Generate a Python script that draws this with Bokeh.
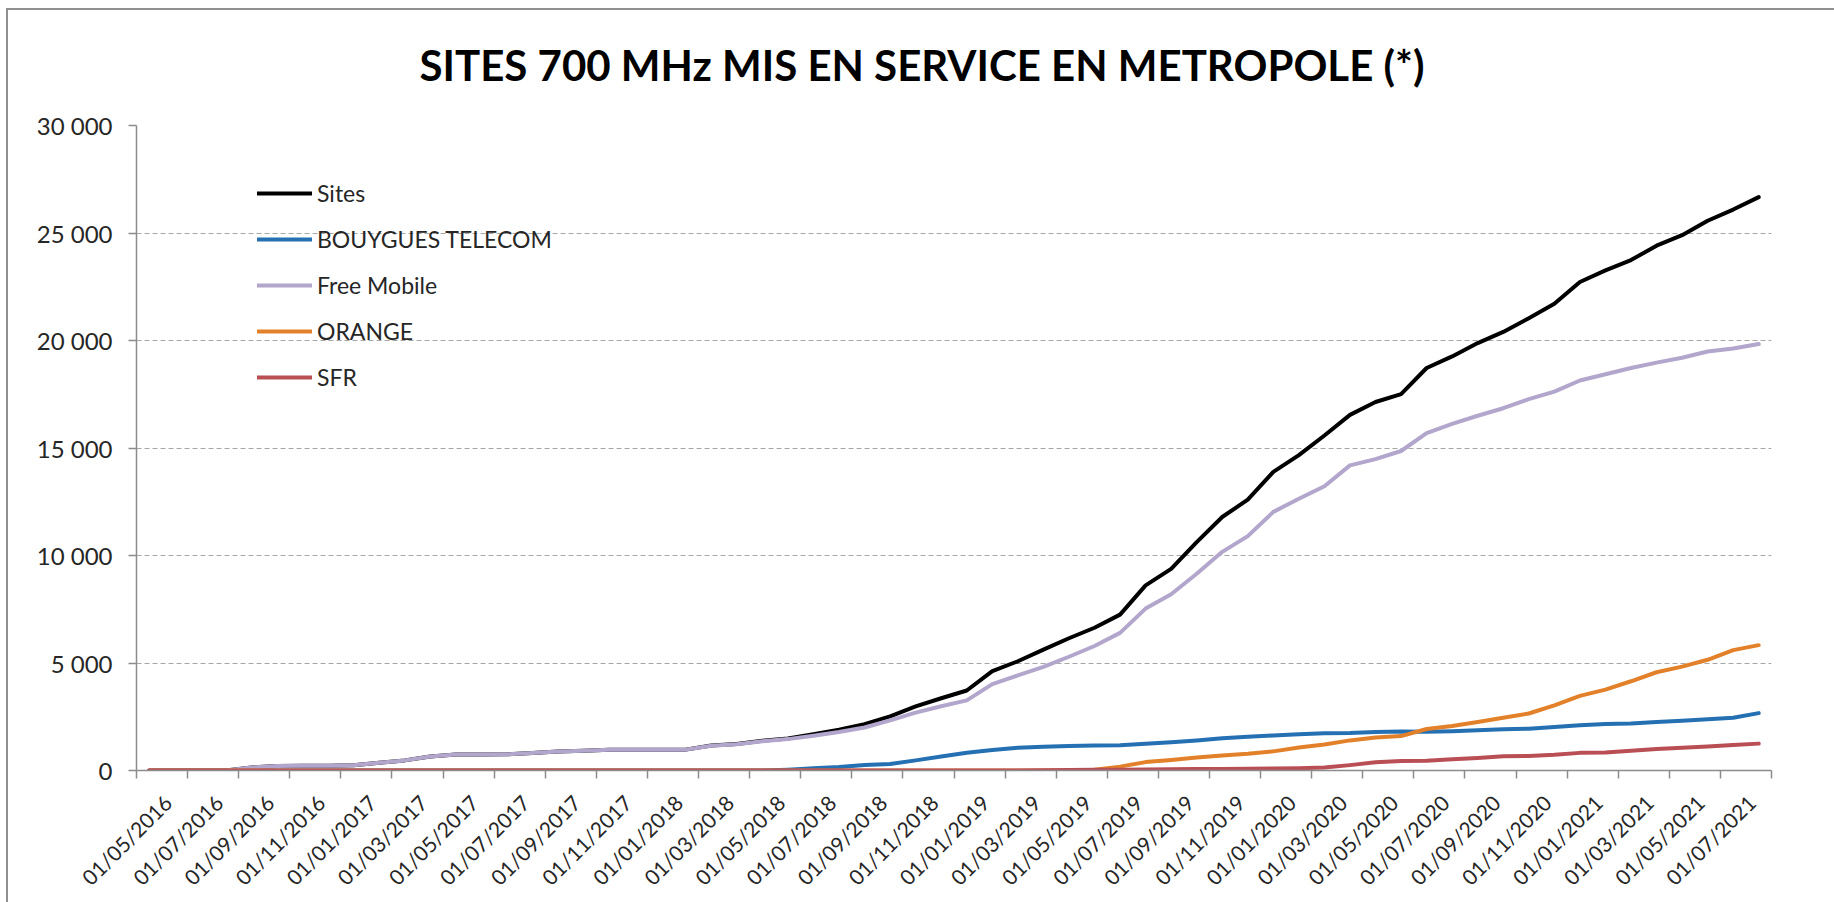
import math
from bokeh.plotting import figure
from bokeh.models import Range1d, FixedTicker, Title
from bokeh.embed import file_html
from bokeh.resources import INLINE

# ---------------- data ----------------
months = [
    "05/2016", "06/2016", "07/2016", "08/2016", "09/2016", "10/2016", "11/2016", "12/2016",
    "01/2017", "02/2017", "03/2017", "04/2017", "05/2017", "06/2017", "07/2017", "08/2017",
    "09/2017", "10/2017", "11/2017", "12/2017", "01/2018", "02/2018", "03/2018", "04/2018",
    "05/2018", "06/2018", "07/2018", "08/2018", "09/2018", "10/2018", "11/2018", "12/2018",
    "01/2019", "02/2019", "03/2019", "04/2019", "05/2019", "06/2019", "07/2019", "08/2019",
    "09/2019", "10/2019", "11/2019", "12/2019", "01/2020", "02/2020", "03/2020", "04/2020",
    "05/2020", "06/2020", "07/2020", "08/2020", "09/2020", "10/2020", "11/2020", "12/2020",
    "01/2021", "02/2021", "03/2021", "04/2021", "05/2021", "06/2021", "07/2021", "08/2021",
]

tick_labels = [
    "01/05/2016", "01/07/2016", "01/09/2016", "01/11/2016", "01/01/2017", "01/03/2017",
    "01/05/2017", "01/07/2017", "01/09/2017", "01/11/2017", "01/01/2018", "01/03/2018",
    "01/05/2018", "01/07/2018", "01/09/2018", "01/11/2018", "01/01/2019", "01/03/2019",
    "01/05/2019", "01/07/2019", "01/09/2019", "01/11/2019", "01/01/2020", "01/03/2020",
    "01/05/2020", "01/07/2020", "01/09/2020", "01/11/2020", "01/01/2021", "01/03/2021",
    "01/05/2021", "01/07/2021",
]

sites = [
    0, 0, 0, 0, 140, 210, 220, 220, 240, 360, 470, 650, 740, 740, 750, 810,
    880, 920, 960, 960, 960, 970, 1160, 1230, 1380, 1490, 1690, 1900, 2150, 2520, 2980, 3360,
    3720, 4620, 5080, 5620, 6150, 6640, 7250, 8610, 9380, 10620, 11790, 12600, 13890, 14670, 15580, 16540,
    17140, 17510, 18720, 19260, 19880, 20400, 21040, 21710, 22720, 23260, 23740, 24410, 24900, 25570, 26090, 26670,
]

bouygues = [
    0, 0, 0, 0, 0, 0, 0, 0, 0, 0, 0, 0, 0, 0, 0, 0,
    0, 0, 0, 0, 0, 0, 0, 0, 0, 40, 100, 160, 260, 300, 470, 650,
    830, 950, 1060, 1110, 1140, 1160, 1170, 1240, 1310, 1400, 1500, 1570, 1630, 1690, 1730, 1740,
    1790, 1810, 1800, 1830, 1870, 1920, 1940, 2020, 2110, 2160, 2190, 2260, 2310, 2380, 2450, 2670,
]

free_mobile = [
    0, 0, 0, 0, 140, 210, 220, 220, 240, 360, 470, 650, 740, 740, 750, 810,
    880, 920, 960, 960, 960, 970, 1150, 1220, 1360, 1460, 1620, 1790, 2000, 2330, 2690, 2990,
    3260, 4020, 4420, 4820, 5290, 5790, 6400, 7530, 8200, 9150, 10170, 10900, 12030, 12640, 13220, 14190,
    14480, 14860, 15690, 16120, 16500, 16850, 17270, 17620, 18140, 18430, 18720, 18970, 19200, 19490, 19630, 19840,
]

orange = [
    0, 0, 0, 0, 0, 0, 0, 0, 0, 0, 0, 0, 0, 0, 0, 0,
    0, 0, 0, 0, 0, 0, 0, 0, 0, 0, 0, 0, 0, 0, 0, 0,
    0, 0, 0, 0, 0, 30, 180, 390, 490, 600, 700, 780, 890, 1070, 1210, 1400,
    1540, 1600, 1930, 2070, 2260, 2450, 2650, 3030, 3470, 3760, 4150, 4570, 4830, 5150, 5600, 5830,
]

sfr = [
    0, 0, 0, 0, 0, 0, 0, 0, 0, 0, 0, 0, 0, 0, 0, 0,
    0, 0, 0, 0, 0, 0, 0, 0, 0, 0, 0, 0, 0, 0, 0, 0,
    0, 0, 0, 10, 20, 30, 40, 50, 60, 70, 75, 85, 95, 110, 140, 250,
    380, 440, 450, 520, 580, 660, 680, 730, 820, 840, 920, 1000, 1060, 1120, 1190, 1250,
]

y_ticks = [0, 5000, 10000, 15000, 20000, 25000, 30000]
y_tick_labels = ["0", "5 000", "10 000", "15 000", "20 000", "25 000", "30 000"]

series_names = ["Sites", "BOUYGUES TELECOM", "Free Mobile", "ORANGE", "SFR"]
series_values = [sites, bouygues, free_mobile, orange, sfr]
series_colors = ["#000000", "#2470B3", "#B3A6CC", "#E3812B", "#BA4E55"]

title_text = "SITES 700 MHz MIS EN SERVICE EN METROPOLE (*)"

# ---------------- figure ----------------
FONT = "Lato"
n = len(months)
x_centers = [i + 0.5 for i in range(n)]             # category centres
boundaries = [float(i) for i in range(0, n + 1, 2)]  # tick marks between categories
LABEL_SHIFT = 0.72                                   # rotated label box sits right of the centre
label_pos = [months.index(t[3:]) + 0.5 + LABEL_SHIFT for t in tick_labels]

p = figure(
    width=1834, height=902,
    x_range=Range1d(0, n), y_range=Range1d(0, 30000),
    output_backend="svg", toolbar_location=None,
    min_border_left=136, min_border_right=63, min_border_top=125, min_border_bottom=132,
    background_fill_color="white", border_fill_color="white", border_fill_alpha=0,
)
# chart-area frame (left and top edges visible, as in the reference)
p.styles = {
    "background": ("linear-gradient(#8f8f8f, #8f8f8f) 6px 8px / 2px calc(100% - 8px) no-repeat, "
                   "linear-gradient(#8f8f8f, #8f8f8f) 6px 8px / calc(100% - 6px) 2px no-repeat, white"),
}
p.outline_line_color = None

t = Title(text=title_text, align="left", offset=283, standoff=68, vertical_align="top",
          text_font=FONT, text_font_size="42px", text_font_style="bold", text_color="#000000")
p.add_layout(t, "above")

# x axis
xa = p.xaxis[0]
xa.ticker = FixedTicker(ticks=label_pos, minor_ticks=boundaries)
xa.major_label_overrides = {pos: lab for pos, lab in zip(label_pos, tick_labels)}
xa.major_label_orientation = math.pi / 4
xa.major_tick_line_color = None
xa.major_tick_out = 0
xa.major_tick_in = 0
xa.minor_tick_line_color = "#8c8c8c"
xa.minor_tick_line_width = 1.5
xa.minor_tick_out = 8
xa.minor_tick_in = 0
xa.axis_line_color = "#8c8c8c"
xa.axis_line_width = 1.5
xa.major_label_standoff = 20
xa.major_label_text_font = FONT
xa.major_label_text_font_size = "21px"
xa.major_label_text_color = "#262626"

# y axis
ya = p.yaxis[0]
ya.ticker = FixedTicker(ticks=y_ticks)
ya.major_label_overrides = {v: s for v, s in zip(y_ticks, y_tick_labels)}
ya.minor_tick_line_color = None
ya.major_tick_line_color = "#8c8c8c"
ya.major_tick_line_width = 1.5
ya.major_tick_out = 8
ya.major_tick_in = 0
ya.axis_line_color = "#8c8c8c"
ya.axis_line_width = 1.5
ya.major_label_standoff = 16
ya.major_label_text_font = FONT
ya.major_label_text_font_size = "24px"
ya.major_label_text_color = "#262626"

p.xgrid.grid_line_color = None
p.ygrid.ticker = FixedTicker(ticks=y_ticks[1:])
p.ygrid.grid_line_color = "#a6a6a6"
p.ygrid.grid_line_dash = "5 3"
p.ygrid.grid_line_width = 1.2

for name, vals, col in zip(series_names, series_values, series_colors):
    p.line(x_centers, vals, line_color=col, line_width=4, legend_label=name,
           line_join="round", line_cap="round")

lg = p.legend[0]
lg.location = (121, 378)
lg.padding = 0
lg.margin = 0
lg.spacing = 16
lg.glyph_width = 55
lg.glyph_height = 30
lg.label_height = 30
lg.label_standoff = 5
lg.label_text_font = FONT
lg.label_text_font_size = "23px"
lg.label_text_color = "#262626"
lg.background_fill_alpha = 0
lg.border_line_color = None

open("out.html", "w").write(file_html(p, INLINE))
